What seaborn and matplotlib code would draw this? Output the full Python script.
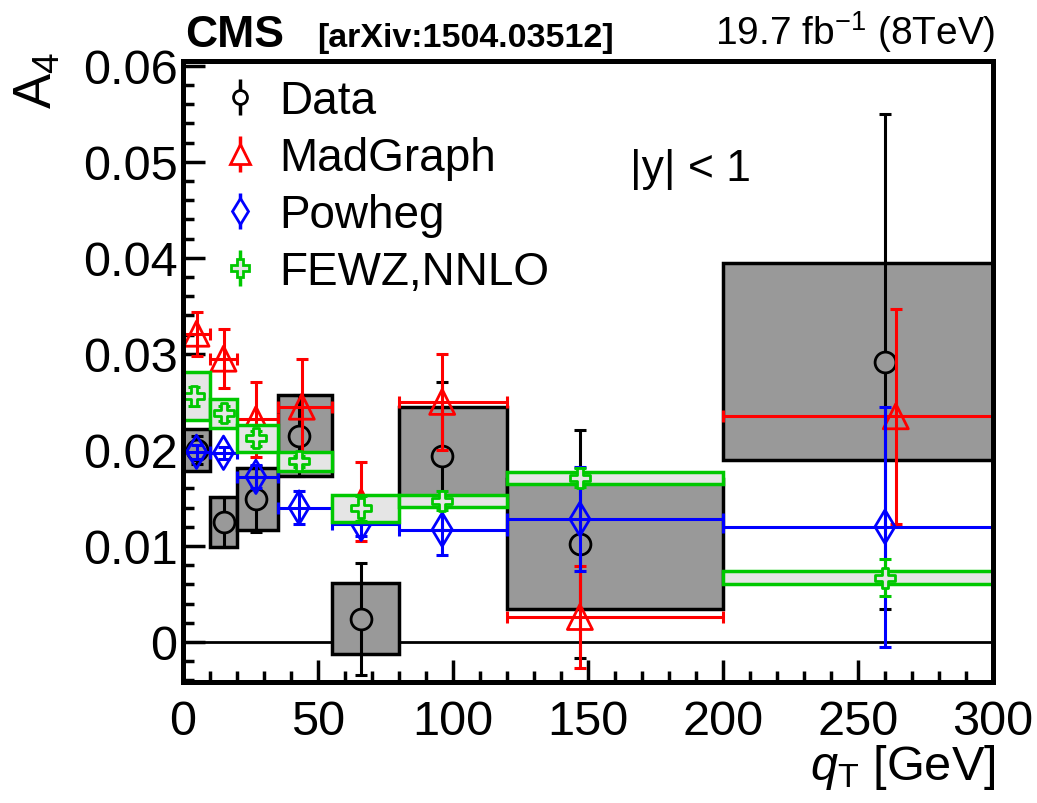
import numpy as np
import pandas as pd
import matplotlib
matplotlib.use('Agg')
import matplotlib.pyplot as plt
import seaborn as sns
from matplotlib.lines import Line2D
from matplotlib.ticker import MultipleLocator

# qT bins [GeV]
bin_lo = [0, 10, 20, 35, 55, 80, 120, 200]
bin_hi = [10, 20, 35, 55, 80, 120, 200, 300]

# Data: value, stat error, syst half-height
data_x = [5, 15, 27, 43, 66, 96, 147, 260]
data_val = [0.0200, 0.0125, 0.0149, 0.0215, 0.0024, 0.0194, 0.0102, 0.0292]
data_stat = [0.0015, 0.0026, 0.0034, 0.0042, 0.0058, 0.0077, 0.0119, 0.0258]
data_syst = [0.0022, 0.0026, 0.0032, 0.0042, 0.0037, 0.0051, 0.0068, 0.0103]

# MadGraph
mg_x = [5, 15, 27, 44, 66, 96, 147, 264]
mg_val = [0.0321, 0.0295, 0.0232, 0.0245, 0.0146, 0.0250, 0.0026, 0.0235]
mg_err = [0.0023, 0.0031, 0.0039, 0.0050, 0.0041, 0.0050, 0.0053, 0.0112]

# Powheg
pw_x = [5, 15, 27, 43, 66, 96, 147, 260]
pw_val = [0.0198, 0.0197, 0.0172, 0.0140, 0.0123, 0.0117, 0.0128, 0.0120]
pw_err = [0.0007, 0.0006, 0.0012, 0.0017, 0.0013, 0.0026, 0.0054, 0.0125]

# FEWZ NNLO
fz_x = [4, 15, 27, 43, 66, 96, 147, 260]
fz_val = [0.0256, 0.0238, 0.0212, 0.0188, 0.0139, 0.0147, 0.0171, 0.0067]
fz_box = [0.0025, 0.0015, 0.0014, 0.0010, 0.0014, 0.0006, 0.0006, 0.0007]
fz_err = [0.0010, 0.0008, 0.0008, 0.0006, 0.0013, 0.0010, 0.0010, 0.0019]

sns.set_style('ticks')
plt.rcParams['font.family'] = ['Liberation Sans', 'DejaVu Sans']
plt.rcParams['mathtext.fontset'] = 'custom'
plt.rcParams['mathtext.rm'] = 'Liberation Sans'
plt.rcParams['mathtext.it'] = 'Liberation Sans:italic'
for key in ['text.color', 'axes.labelcolor', 'xtick.color', 'ytick.color', 'axes.edgecolor']:
    plt.rcParams[key] = 'black'

RED, BLUE, GREEN = '#ff0000', '#0000ff', '#00c800'

df = pd.DataFrame({'lo': bin_lo, 'hi': bin_hi})
df['w'] = df['hi'] - df['lo']

fig = plt.figure(figsize=(10.37, 8.04), dpi=100)
ax = fig.add_axes([183 / 1037, 1 - 683 / 804, 810 / 1037, 621 / 804])

ax.axhline(0, color='black', lw=2, zorder=1)

# data syst boxes
dv = np.array(data_val)
ds = np.array(data_syst)
ax.bar(df['lo'], 2 * ds, bottom=dv - ds, width=df['w'], align='edge',
       color='#999999', edgecolor='black', linewidth=2.5, zorder=2)
ax.errorbar(data_x, data_val, yerr=data_stat, fmt='none', ecolor='black',
            elinewidth=2.2, capsize=4, capthick=2.2, zorder=3)
sns.scatterplot(x=data_x, y=data_val, marker='o', s=15 ** 2, color='#999999',
                edgecolor='black', linewidth=2, zorder=4, ax=ax)

# MadGraph
mx = np.array(mg_x)
ax.errorbar(mg_x, mg_val, yerr=mg_err, xerr=[mx - df['lo'], df['hi'] - mx],
            fmt='none', ecolor=RED, elinewidth=2.2, capsize=4, capthick=2.2, zorder=5)
sns.scatterplot(x=mg_x, y=mg_val, marker='^', s=18 ** 2, facecolor='none',
                edgecolor=RED, linewidth=2, zorder=6, ax=ax)

# Powheg
px = np.array(pw_x)
ax.errorbar(pw_x, pw_val, yerr=pw_err, xerr=[px - df['lo'], df['hi'] - px],
            fmt='none', ecolor=BLUE, elinewidth=2.2, capsize=4, capthick=2.2, zorder=7)
sns.scatterplot(x=pw_x, y=pw_val, marker='d', s=17 ** 2, facecolor='none',
                edgecolor=BLUE, linewidth=2, zorder=8, ax=ax)

# FEWZ
fv = np.array(fz_val)
fb = np.array(fz_box)
ax.bar(df['lo'], 2 * fb, bottom=fv - fb, width=df['w'], align='edge',
       color='#e5e5e5', edgecolor=GREEN, linewidth=2.5, zorder=9)
ax.errorbar(fz_x, fz_val, yerr=fz_err, fmt='none', ecolor=GREEN,
            elinewidth=2.2, capsize=4, capthick=2.2, zorder=10)
sns.scatterplot(x=fz_x, y=fz_val, marker='P', s=15 ** 2, color='#e5e5e5',
                edgecolor=GREEN, linewidth=2, zorder=11, ax=ax)

ax.set_xlim(0, 300)
ax.set_ylim(-0.00417, 0.0605)
ax.xaxis.set_major_locator(MultipleLocator(50))
ax.xaxis.set_minor_locator(MultipleLocator(10))
ax.yaxis.set_major_locator(MultipleLocator(0.01))
ax.yaxis.set_minor_locator(MultipleLocator(0.002))
ax.yaxis.set_major_formatter(plt.FuncFormatter(lambda v, p: '0' if abs(v) < 1e-9 else f'{v:.2f}'))
ax.tick_params(which='both', direction='in', top=False, right=False)
ax.tick_params(which='major', length=16, width=2.5)
ax.tick_params(which='minor', length=8, width=2.5)
ax.tick_params(axis='y', labelsize=35, pad=4)
ax.tick_params(axis='x', labelsize=35, pad=12)
for s in ax.spines.values():
    s.set_linewidth(3.6)
    s.set_zorder(20)

ax.text(165.5, 0.0481, '|y| < 1', fontsize=32, va='baseline', ha='left')

# legend
def handle(col, mk, ms, fc):
    bar = Line2D([0], [0], color=col, marker='|', ms=26, mew=2.5, ls='none')
    pt = Line2D([0], [0], marker=mk, ms=ms, mfc=fc, mec=col, mew=2, ls='none')
    return (bar, pt)

handles = [handle('black', 'o', 10, 'white'), handle(RED, '^', 14, 'white'),
           handle(BLUE, 'd', 13, 'white'), handle(GREEN, 'P', 13, '#e5e5e5')]
labels = ['Data', 'MadGraph', 'Powheg', 'FEWZ,NNLO']
ax.legend(handles, labels, loc='upper left', bbox_to_anchor=(0.02, 1.0),
          fontsize=33, frameon=False, handlelength=1.0, handletextpad=0.35,
          labelspacing=0.28, borderaxespad=0)

# texts
fig.text(185 / 1037, 1 - 47 / 804, 'CMS', fontsize=32, weight='bold', va='baseline')
fig.text(317 / 1037, 1 - 47 / 804, '[arXiv:1504.03512]', fontsize=24.5, weight='bold', va='baseline')
fig.text(995 / 1037, 1 - 45 / 804, r'19.7 fb$^{\mathregular{-1}}$ (8TeV)', fontsize=28,
         ha='right', va='baseline')
fig.text(38 / 1037, 1 - 80 / 804, r'A$_{\mathregular{4}}$', fontsize=38, rotation=90,
         ha='center', va='center')
fig.text(995 / 1037, 1 - 780 / 804, r'$q_{\mathregular{T}}$ [GeV]', fontsize=35,
         ha='right', va='baseline')

fig.savefig('out.png', dpi=100)
